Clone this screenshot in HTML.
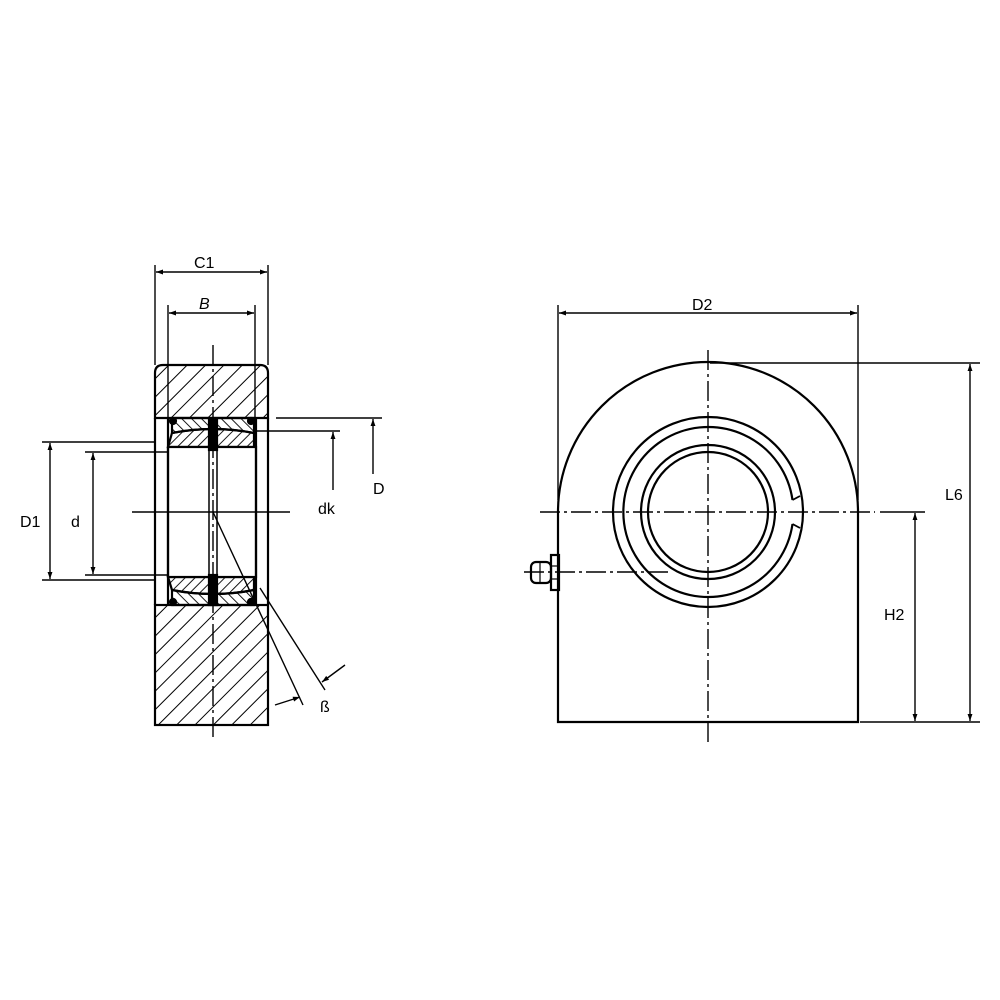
<!DOCTYPE html>
<html><head><style>html,body{margin:0;padding:0;background:#fff}svg{display:block}</style></head>
<body>
<svg width="1000" height="1000" viewBox="0 0 1000 1000" xmlns="http://www.w3.org/2000/svg" font-family="Liberation Sans, sans-serif">
<defs>
<pattern id="h1" patternUnits="userSpaceOnUse" width="13" height="13" patternTransform="rotate(45)">
<line x1="0" y1="0" x2="0" y2="13" stroke="#000" stroke-width="2"/></pattern>
<pattern id="h2" patternUnits="userSpaceOnUse" width="7" height="7" patternTransform="rotate(45)">
<line x1="0" y1="0" x2="0" y2="7" stroke="#000" stroke-width="1.8"/></pattern>
<pattern id="h3" patternUnits="userSpaceOnUse" width="7" height="7" patternTransform="rotate(-45)">
<line x1="0" y1="0" x2="0" y2="7" stroke="#000" stroke-width="1.8"/></pattern>
<marker id="a" viewBox="0 0 10 10" refX="10" refY="5" markerWidth="9" markerHeight="7" orient="auto-start-reverse" markerUnits="userSpaceOnUse"><path d="M0,1.5 L10,5 L0,8.5z" fill="#000"/></marker>
</defs>
<g stroke="#000" fill="none" stroke-width="2.2">
<path d="M155,418 V373 Q155,365 163,365 H260 Q268,365 268,373 V418 Z" fill="url(#h1)"/>
<rect x="155" y="605" width="113" height="120" fill="url(#h1)"/>
<line x1="155" y1="418" x2="155" y2="605"/>
<line x1="268" y1="418" x2="268" y2="605"/>
<path d="M172,418 H254 V433 Q213,425 172,433Z" fill="url(#h3)"/>
<path d="M172,433 Q213,425 254,433 V447 H168 Z" fill="url(#h2)"/>
<path d="M172,605 H254 V590 Q213,598 172,590Z" fill="url(#h3)"/>
<path d="M172,590 Q213,598 254,590 V577 H168 Z" fill="url(#h2)"/>
<rect x="168" y="447" width="88" height="130" fill="#fff"/>
<line x1="168" y1="418" x2="168" y2="605"/>
<line x1="256" y1="418" x2="256" y2="605"/>
<rect x="209" y="420" width="8" height="185" stroke-width="1.5"/>
<rect x="209" y="420" width="8" height="30" fill="#000"/>
<rect x="209" y="575" width="8" height="30" fill="#000"/>
<circle cx="173" cy="421" r="3" fill="#000"/><circle cx="251" cy="421" r="3" fill="#000"/>
<circle cx="173" cy="602" r="3" fill="#000"/><circle cx="251" cy="602" r="3" fill="#000"/>
</g>
<g stroke="#000" stroke-width="1.4" fill="none">
<line x1="213" y1="345" x2="213" y2="740" stroke-dasharray="20,4,3,4"/>
<line x1="132" y1="512" x2="290" y2="512"/>
<line x1="155" y1="265" x2="155" y2="365"/><line x1="268" y1="265" x2="268" y2="365"/>
<line x1="156" y1="272" x2="267" y2="272" marker-start="url(#a)" marker-end="url(#a)"/>
<line x1="168" y1="305" x2="168" y2="418"/><line x1="255" y1="305" x2="255" y2="418"/>
<line x1="169" y1="313" x2="254" y2="313" marker-start="url(#a)" marker-end="url(#a)"/>
<line x1="42" y1="442" x2="155" y2="442"/><line x1="42" y1="580" x2="155" y2="580"/>
<line x1="50" y1="443" x2="50" y2="579" marker-start="url(#a)" marker-end="url(#a)"/>
<line x1="85" y1="452" x2="168" y2="452"/><line x1="85" y1="575" x2="168" y2="575"/>
<line x1="93" y1="453" x2="93" y2="574" marker-start="url(#a)" marker-end="url(#a)"/>
<line x1="276" y1="418" x2="382" y2="418"/><line x1="256" y1="431" x2="340" y2="431"/>
<line x1="373" y1="474" x2="373" y2="419" marker-end="url(#a)"/>
<line x1="333" y1="490" x2="333" y2="432" marker-end="url(#a)"/>
<line x1="213" y1="512" x2="303" y2="705"/>
<line x1="260" y1="588" x2="325" y2="690"/>
<line x1="275" y1="705" x2="300" y2="697" marker-end="url(#a)"/>
<line x1="345" y1="665" x2="322" y2="682" marker-end="url(#a)"/>
</g>
<g font-size="16" fill="#000">
<text x="194" y="268">C1</text>
<text x="199" y="309" font-style="italic">B</text>
<text x="20" y="527">D1</text>
<text x="71" y="527">d</text>
<text x="318" y="514">dk</text>
<text x="373" y="494">D</text>
<text x="320" y="712">ß</text>
<text x="692" y="310">D2</text>
<text x="945" y="500">L6</text>
<text x="884" y="620">H2</text>
</g>
<g stroke="#000" stroke-width="2.2" fill="none">
<path d="M558,722 V512 A150,150 0 0 1 858,512 V722 Z"/>
<circle cx="708" cy="512" r="95"/>
<path d="M792.5,524 A85,85 0 1 1 792.5,500"/>
<path d="M792.5,500 L800,496 M792.5,524 L800,528" stroke-width="1.8"/>
<circle cx="708" cy="512" r="67"/>
<circle cx="708" cy="512" r="60"/>
<rect x="551" y="555" width="8" height="35"/>
<line x1="551" y1="566" x2="559" y2="566" stroke-width="1.2"/>
<line x1="551" y1="579" x2="559" y2="579" stroke-width="1.2"/>
<rect x="531" y="562" width="20" height="21" rx="5"/>
<line x1="540" y1="562" x2="540" y2="583" stroke-width="1.2"/>
</g>
<g stroke="#000" stroke-width="1.4" fill="none">
<line x1="708" y1="350" x2="708" y2="742" stroke-dasharray="20,4,3,4"/>
<line x1="540" y1="512" x2="875" y2="512" stroke-dasharray="20,4,3,4"/>
<line x1="524" y1="572" x2="668" y2="572" stroke-dasharray="20,4,3,4"/>
<line x1="558" y1="305" x2="558" y2="500"/><line x1="858" y1="305" x2="858" y2="500"/>
<line x1="559" y1="313" x2="857" y2="313" marker-start="url(#a)" marker-end="url(#a)"/>
<line x1="710" y1="363" x2="980" y2="363"/><line x1="860" y1="722" x2="980" y2="722"/>
<line x1="880" y1="512" x2="925" y2="512"/>
<line x1="970" y1="364" x2="970" y2="721" marker-start="url(#a)" marker-end="url(#a)"/>
<line x1="915" y1="513" x2="915" y2="721" marker-start="url(#a)" marker-end="url(#a)"/>
</g>
</svg>
</body></html>
